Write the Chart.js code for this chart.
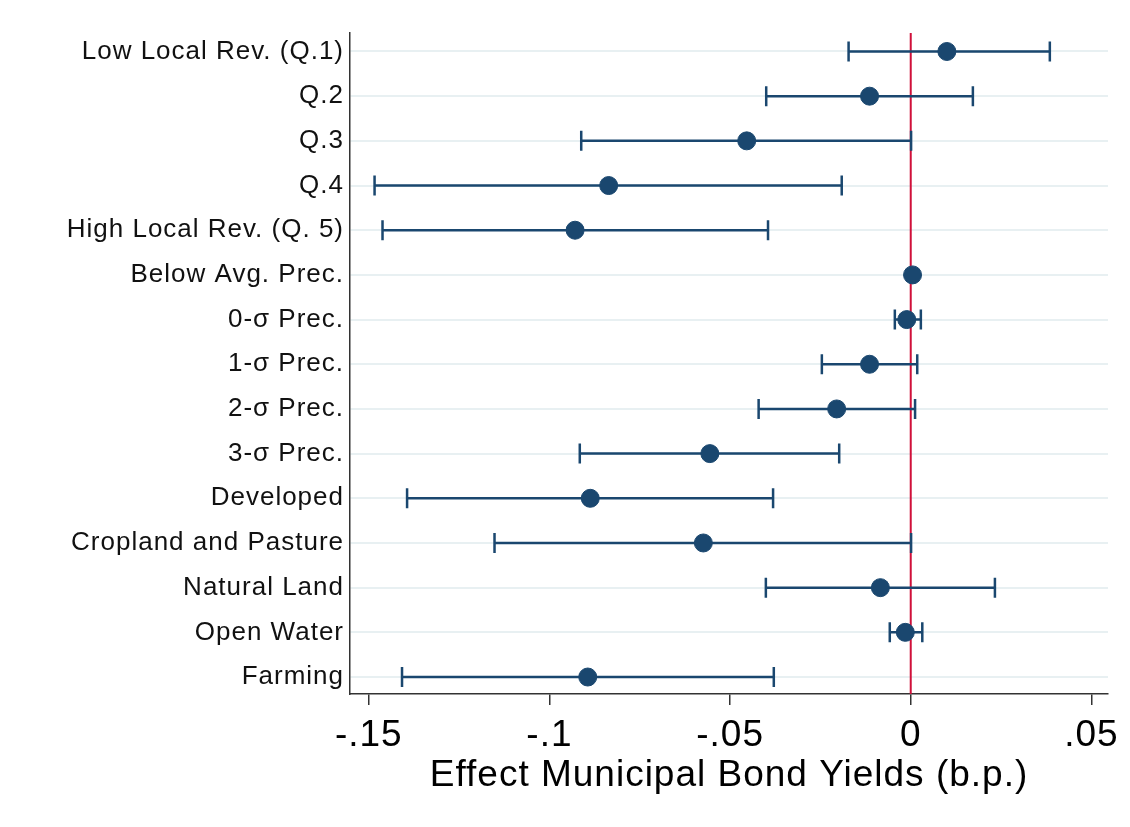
<!DOCTYPE html>
<html>
<head>
<meta charset="utf-8">
<script src="https://cdn.jsdelivr.net/npm/chart.js@4/dist/chart.umd.min.js"></script>
<style>
  html, body { margin: 0; padding: 0; background: #fff; }
  canvas { display: block; }
</style>
</head>
<body>
<canvas id="coefChart" width="1130" height="827"></canvas>
<script>
const categories = [
    'Low Local Rev. (Q.1)', 'Q.2', 'Q.3', 'Q.4', 'High Local Rev. (Q. 5)',
    'Below Avg. Prec.', '0-σ Prec.', '1-σ Prec.', '2-σ Prec.', '3-σ Prec.',
    'Developed', 'Cropland and Pasture', 'Natural Land', 'Open Water', 'Farming'
];
const estimates = [0.0100, -0.0114, -0.0454, -0.0836, -0.0929, 0.0005, -0.0011, -0.0114, -0.0205, -0.0556, -0.0887, -0.0574, -0.0084, -0.0015, -0.0894];
const ciLow =     [-0.0172, -0.0400, -0.0912, -0.1484, -0.1462, 0.0003, -0.0044, -0.0246, -0.0421, -0.0916, -0.1394, -0.1152, -0.0401, -0.0058, -0.1408];
const ciHigh =    [0.0385, 0.0172, 0.0001, -0.0191, -0.0395, 0.0007, 0.0028, 0.0018, 0.0012, -0.0198, -0.0381, 0.0001, 0.0233, 0.0032, -0.0379];
const xTicks = [-0.15, -0.1, -0.05, 0, 0.05];

const navy = '#1a476f';
const fontFamily = "'Liberation Sans', Arial, sans-serif";

// espaçamento de letras um pouco maior, como no original
const spacing = {
    id: 'spacing',
    beforeUpdate(chart) { chart.ctx.letterSpacing = '1px'; },
    beforeDraw(chart) { chart.ctx.letterSpacing = '1px'; }
};

// linha vermelha no zero + intervalos de confiança
const errorBars = {
    id: 'errorBars',
    beforeDatasetsDraw(chart) {
        const { ctx, chartArea, scales: { x, y } } = chart;
        ctx.save();
        const x0 = x.getPixelForValue(0);
        ctx.strokeStyle = '#d0103a';
        ctx.lineWidth = 2;
        ctx.beginPath();
        ctx.moveTo(x0, chartArea.top);
        ctx.lineTo(x0, chartArea.bottom);
        ctx.stroke();

        ctx.strokeStyle = navy;
        ctx.lineWidth = 2.5;
        const cap = 10;
        categories.forEach((c, i) => {
            if (ciHigh[i] - ciLow[i] < 0.001) return;
            const yy = y.getPixelForValue(i + 1);
            const xl = x.getPixelForValue(ciLow[i]);
            const xh = x.getPixelForValue(ciHigh[i]);
            ctx.beginPath();
            ctx.moveTo(xl, yy); ctx.lineTo(xh, yy);
            ctx.moveTo(xl, yy - cap); ctx.lineTo(xl, yy + cap);
            ctx.moveTo(xh, yy - cap); ctx.lineTo(xh, yy + cap);
            ctx.stroke();
        });
        ctx.restore();
    }
};

const ctx = document.getElementById('coefChart').getContext('2d');
new Chart(ctx, {
    type: 'scatter',
    data: {
        datasets: [{
            data: estimates.map((v, i) => ({ x: v, y: i + 1 })),
            backgroundColor: navy,
            borderColor: navy,
            pointRadius: 9,
            pointHoverRadius: 9
        }]
    },
    options: {
        responsive: false,
        animation: false,
        layout: { padding: { top: 33, right: 22, bottom: 25, left: 0 } },
        plugins: {
            legend: { display: false },
            tooltip: { enabled: false }
        },
        scales: {
            x: {
                type: 'linear',
                min: -0.1552,
                max: 0.0546,
                afterBuildTicks: (scale) => { scale.ticks = xTicks.map(v => ({ value: v })); },
                afterFit: (scale) => { scale.height = 108; },
                ticks: {
                    padding: 9,
                    color: '#000',
                    font: { family: fontFamily, size: 37 },
                    callback: (v) => v === 0 ? '0' : String(v).replace('0.', '.')
                },
                grid: {
                    drawOnChartArea: false,
                    drawTicks: true,
                    tickLength: 11,
                    color: '#333',
                    lineWidth: 1.5
                },
                border: { display: true, color: '#333', width: 1.5 },
                title: {
                    display: true,
                    text: 'Effect Municipal Bond Yields (b.p.)',
                    color: '#000',
                    font: { family: fontFamily, size: 37 }
                }
            },
            y: {
                type: 'linear',
                reverse: true,
                min: 0.586,
                max: 15.38,
                afterBuildTicks: (scale) => { scale.ticks = categories.map((c, i) => ({ value: i + 1 })); },
                afterFit: (scale) => { scale.width = 350; },
                ticks: {
                    padding: 6,
                    color: '#111',
                    font: { family: fontFamily, size: 26 },
                    callback: (v) => categories[v - 1]
                },
                grid: {
                    drawTicks: false,
                    color: '#e8f0f2',
                    lineWidth: 2
                },
                border: { display: true, color: '#333', width: 1.5 }
            }
        }
    },
    plugins: [spacing, errorBars]
});
</script>
</body>
</html>
